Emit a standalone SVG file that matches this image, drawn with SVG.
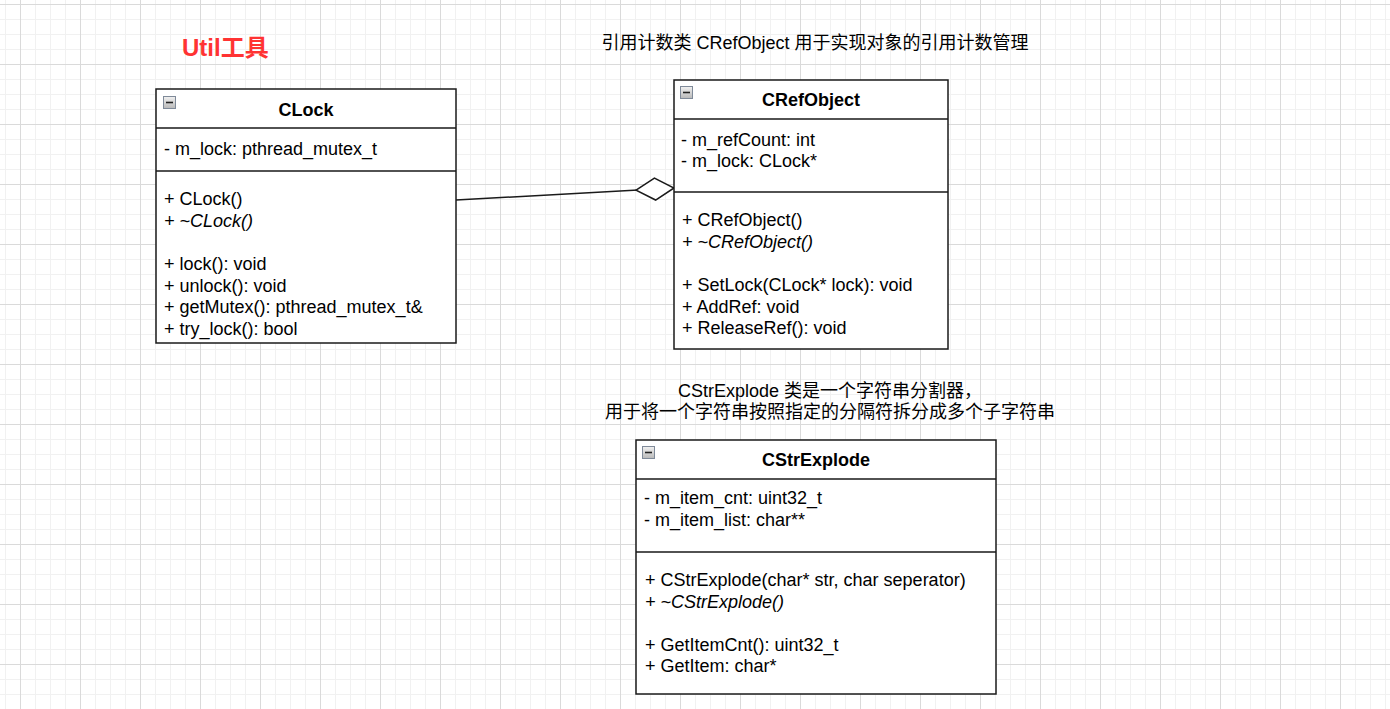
<svg xmlns="http://www.w3.org/2000/svg" width="1390" height="709" viewBox="0 0 1390 709">
<defs>
<pattern id="grid" patternUnits="userSpaceOnUse" x="20" y="4" width="60" height="60">
<path d="M15.5 0V60M30.5 0V60M45.5 0V60M0 15.5H60M0 30.5H60M0 45.5H60" stroke="#f1f1f1" stroke-width="1" fill="none"/>
<path d="M0.5 0V60M0 0.5H60" stroke="#dadada" stroke-width="1" fill="none"/>
</pattern>
<linearGradient id="btn" x1="0" y1="0" x2="0" y2="1">
<stop offset="0" stop-color="#f2f2f2"/>
<stop offset="1" stop-color="#b8b8b8"/>
</linearGradient>
<marker id="diamond" markerUnits="userSpaceOnUse" markerWidth="40" markerHeight="26" viewBox="-1 -13 40 26" refX="38" refY="0" orient="auto">
<path d="M0 0L19 -11L38 0L19 11Z" fill="#ffffff" stroke="#1a1a1a" stroke-width="1.5"/>
</marker>
<g id="collapse">
<rect x="0.5" y="0.5" width="12" height="12" fill="url(#btn)" stroke="#7f8a99" stroke-width="1"/>
<path d="M3 6.5H10" stroke="#222" stroke-width="1.6"/>
</g>
</defs>
<style>
.box{fill:#ffffff;stroke:#1a1a1a;stroke-width:1.5}
.sep{stroke:#1a1a1a;stroke-width:1.5;fill:none}
.t{font-family:"Liberation Sans",Arial,"Noto Sans CJK SC",sans-serif;font-size:18px;fill:#000}
.name{font-weight:bold;text-anchor:middle}
.i{font-style:italic}
.cap{font-family:"Liberation Sans",Arial,"Noto Sans CJK SC",sans-serif;font-size:18px;fill:#000;text-anchor:middle}
</style>
<rect width="1390" height="709" fill="#ffffff"/>
<rect width="1390" height="709" fill="url(#grid)"/>

<text id="util-title" x="182" y="56" font-family="'Liberation Sans',Arial,'Noto Sans CJK SC',sans-serif" font-size="24" font-weight="bold" fill="#ff3333">Util工具</text>
<text id="cref-caption" class="cap" x="815" y="49">引用计数类 CRefObject 用于实现对象的引用计数管理</text>
<g id="cstr-caption">
<text class="cap" x="830" y="397">CStrExplode 类是一个字符串分割器，</text>
<text class="cap" x="830" y="418">用于将一个字符串按照指定的分隔符拆分成多个子字符串</text>
</g>

<g id="connectors">
<path d="M456 200L674 188" stroke="#1a1a1a" stroke-width="1.5" fill="none" marker-end="url(#diamond)"/>
</g>

<g id="CLock">
<rect class="box" x="156" y="89" width="300" height="254"/>
<path class="sep" d="M156 128H456M156 171H456"/>
<use href="#collapse" x="163" y="96"/>
<text class="t name" x="306" y="116">CLock</text>
<text class="t" x="164" y="155">- m_lock: pthread_mutex_t</text>
<text class="t" x="164" y="205">+ CLock()</text>
<text class="t i" x="164" y="227">+ ~CLock()</text>
<text class="t" x="164" y="270">+ lock(): void</text>
<text class="t" x="164" y="291.5">+ unlock(): void</text>
<text class="t" x="164" y="313">+ getMutex(): pthread_mutex_t&amp;</text>
<text class="t" x="164" y="335">+ try_lock(): bool</text>
</g>

<g id="CRefObject">
<rect class="box" x="674" y="80" width="274" height="269"/>
<path class="sep" d="M674 119H948M674 192H948"/>
<use href="#collapse" x="680" y="86"/>
<text class="t name" x="811" y="106">CRefObject</text>
<text class="t" x="681" y="146">- m_refCount: int</text>
<text class="t" x="681" y="167">- m_lock: CLock*</text>
<text class="t" x="682" y="226">+ CRefObject()</text>
<text class="t i" x="682" y="248">+ ~CRefObject()</text>
<text class="t" x="682" y="291">+ SetLock(CLock* lock): void</text>
<text class="t" x="682" y="313">+ AddRef: void</text>
<text class="t" x="682" y="334">+ ReleaseRef(): void</text>
</g>

<g id="CStrExplode">
<rect class="box" x="636" y="440" width="360" height="254"/>
<path class="sep" d="M636 479H996M636 552H996"/>
<use href="#collapse" x="642" y="446"/>
<text class="t name" x="816" y="466">CStrExplode</text>
<text class="t" x="644" y="504">- m_item_cnt: uint32_t</text>
<text class="t" x="644" y="526">- m_item_list: char**</text>
<text class="t" x="645" y="586">+ CStrExplode(char* str, char seperator)</text>
<text class="t i" x="645" y="608">+ ~CStrExplode()</text>
<text class="t" x="645" y="651">+ GetItemCnt(): uint32_t</text>
<text class="t" x="645" y="672">+ GetItem: char*</text>
</g>
</svg>
